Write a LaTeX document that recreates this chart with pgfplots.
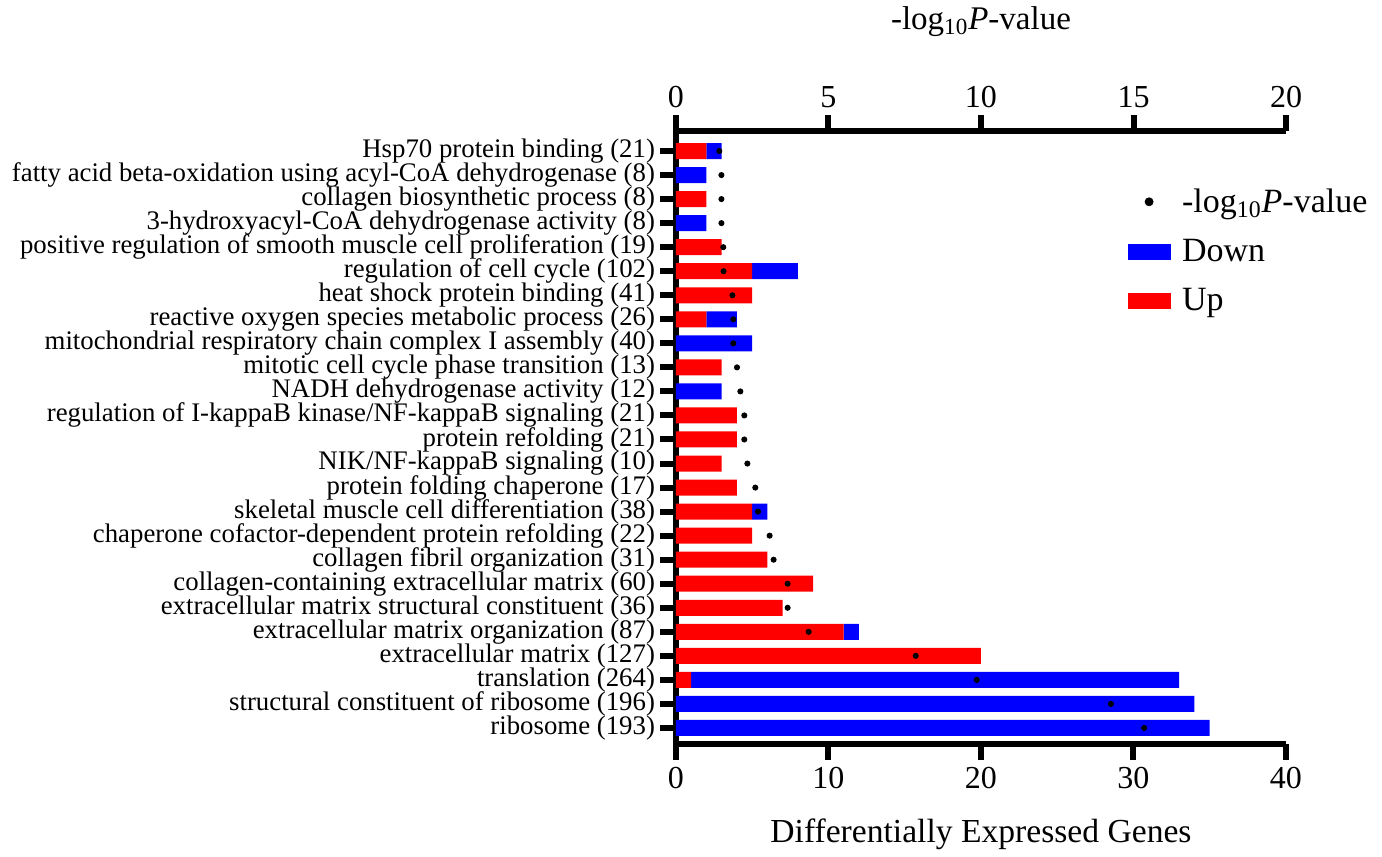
\documentclass[border=0pt]{standalone}
\usepackage{pgfplots}
\pgfplotsset{compat=1.18}
\usepackage{fontspec}
\setmainfont{Liberation Serif}
\begin{document}
\begin{tikzpicture}
\pgfplotsset{
  common/.style={scale only axis, width=305pt, height=306.5pt,
    y dir=reverse, ymin=0.17, ymax=25.67,
    axis line style={line width=3.2pt,-},
    tick style={line width=3pt,black},
    major tick length=8pt, tick align=outside,
    /pgf/number format/assume math mode=true,
    tick label style={font=\fontsize{16}{19}\selectfont}},
}
\begin{axis}[common, xbar stacked, bar width=8pt,
  xmin=0, xmax=40, xtick={0,10,...,40},
  axis x line*=bottom, axis y line*=left,
  ytick={1,...,25},
  yticklabels={
    {Hsp70 protein binding (21)},
    {fatty acid beta-oxidation using acyl-CoA dehydrogenase (8)},
    {collagen biosynthetic process (8)},
    {3-hydroxyacyl-CoA dehydrogenase activity (8)},
    {positive regulation of smooth muscle cell proliferation (19)},
    {regulation of cell cycle (102)},
    {heat shock protein binding (41)},
    {reactive oxygen species metabolic process (26)},
    {mitochondrial respiratory chain complex I assembly (40)},
    {mitotic cell cycle phase transition (13)},
    {NADH dehydrogenase activity (12)},
    {regulation of I-kappaB kinase/NF-kappaB signaling (21)},
    {protein refolding (21)},
    {NIK/NF-kappaB signaling (10)},
    {protein folding chaperone (17)},
    {skeletal muscle cell differentiation (38)},
    {chaperone cofactor-dependent protein refolding (22)},
    {collagen fibril organization (31)},
    {collagen-containing extracellular matrix (60)},
    {extracellular matrix structural constituent (36)},
    {extracellular matrix organization (87)},
    {extracellular matrix (127)},
    {translation (264)},
    {structural constituent of ribosome (196)},
    {ribosome (193)}},
  yticklabel style={font=\fontsize{13.4}{15}\selectfont, xshift=1pt},
  xlabel={Differentially Expressed Genes},
  xlabel style={font=\fontsize{16.8}{20}\selectfont, yshift=-8pt},
]
\addplot[fill=red, draw=none] coordinates {
 (2,1) (0,2) (2,3) (0,4) (3,5) (5,6) (5,7) (2,8) (0,9) (3,10) (0,11) (4,12) (4,13)
 (3,14) (4,15) (5,16) (5,17) (6,18) (9,19) (7,20) (11,21) (20,22) (1,23) (0,24) (0,25)};
\addplot[fill=blue, draw=none] coordinates {
 (1,1) (2,2) (0,3) (2,4) (0,5) (3,6) (0,7) (2,8) (5,9) (0,10) (3,11) (0,12) (0,13)
 (0,14) (0,15) (1,16) (0,17) (0,18) (0,19) (0,20) (1,21) (0,22) (32,23) (34,24) (35,25)};
\end{axis}
\begin{axis}[common, xmin=0, xmax=20, xtick={0,5,...,20},
  axis x line*=top, axis y line=none, ytick=\empty,
  xlabel={-log\textsubscript{10}\textit{P}-value},
  xlabel style={font=\fontsize{16.5}{19}\selectfont, yshift=18pt},
  legend style={at={(0.73,0.92)}, anchor=north west, draw=none, fill=none,
    font=\fontsize{17}{20}\selectfont, row sep=8pt},
  legend cell align=left,
]
\addplot[only marks, mark=*, mark size=1.3pt, black,
  legend image code/.code={\path[draw=none,fill=none] (0pt,0pt) -- (25pt,0pt); \fill[black] (10.5pt,0pt) circle (2pt);}] coordinates {
 (1.42,1) (1.49,2) (1.49,3) (1.49,4) (1.55,5) (1.56,6) (1.85,7) (1.88,8) (1.88,9)
 (2.00,10) (2.11,11) (2.24,12) (2.24,13) (2.34,14) (2.60,15) (2.69,16) (3.07,17)
 (3.20,18) (3.66,19) (3.66,20) (4.35,21) (7.86,22) (9.86,23) (14.26,24) (15.35,25)};
\addlegendentry{-log\textsubscript{10}\textit{P}-value}
\addlegendimage{legend image code/.code={\path[draw=none,fill=none] (0pt,0pt) -- (25pt,0pt); \fill[blue] (0pt,-3.75pt) rectangle (21pt,3.75pt);}}
\addlegendentry{Down}
\addlegendimage{legend image code/.code={\path[draw=none,fill=none] (0pt,0pt) -- (25pt,0pt); \fill[red] (0pt,-3.75pt) rectangle (21pt,3.75pt);}}
\addlegendentry{Up}
\end{axis}
\path (-338pt,-53pt) rectangle (353pt,370.5pt);
\end{tikzpicture}
\end{document}
